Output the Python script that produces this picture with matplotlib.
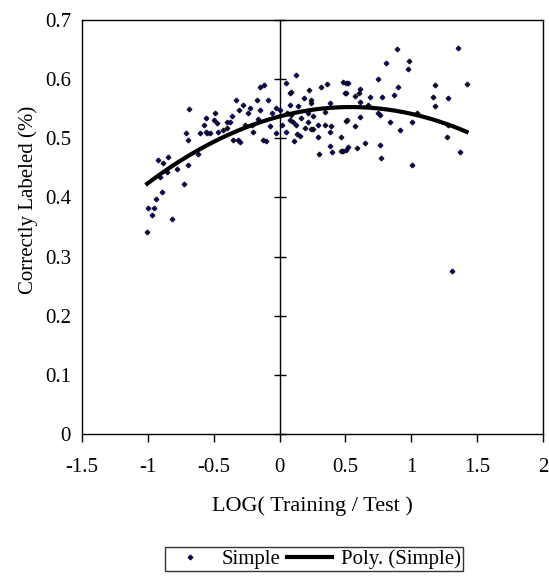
import numpy as np
import matplotlib
matplotlib.use("Agg")
import matplotlib.pyplot as plt

x_vals = [
    -0.685, -0.561, -0.576, -0.711, -0.693, -0.602, -0.561, -0.926, -0.883, -0.845,
    -0.617, -0.781, -0.693, -0.908, -0.726, -0.895, -0.941, -0.997, -0.951, -0.967,
    -0.815, -1.005, -0.853,
    -0.149, -0.116, -0.334, -0.174, -0.086, -0.276, -0.308, -0.225, -0.238, -0.149,
    -0.030, -0.060, -0.491, -0.496, -0.478, -0.364, -0.402, -0.377, -0.162, -0.212,
    -0.554, -0.528, -0.465, -0.427, -0.402, -0.263, -0.200, -0.073, -0.030, -0.352,
    -0.314, -0.301, -0.124, -0.106,
    0.127, 0.051, 0.084, 0.076, 0.221, 0.317, 0.362, 0.481, 0.506, 0.494,
    0.185, 0.241, 0.236, 0.076, 0.140, 0.380, 0.000, 0.058, 0.089, 0.216,
    0.342, 0.165, 0.254, 0.076, 0.102, 0.506, 0.216, 0.018, 0.127, 0.292,
    0.342, 0.393, 0.190, 0.241, 0.254, 0.051, 0.134, 0.153, 0.380, 0.292,
    0.464, 0.109, 0.380, 0.398, 0.464, 0.481, 0.506, 0.297,
    0.889, 0.806, 0.983, 0.977, 0.745, 0.517, 0.897, 0.610, 0.502, 0.603,
    0.686, 0.780, 0.871, 0.610, 0.573, 0.674, 0.750, 0.763, 0.509, 0.610,
    0.838, 0.573, 0.914, 0.648, 0.522, 0.585, 0.762, 0.767,
    1.352, 1.180, 1.420, 1.167, 1.281, 1.180, 1.041, 1.008, 1.281, 1.269,
    1.370, 1.003, 1.306,
]
y_vals = [
    0.550, 0.534, 0.522, 0.509, 0.497, 0.509, 0.511, 0.464, 0.459, 0.468,
    0.473, 0.448, 0.454, 0.435, 0.422, 0.410, 0.397, 0.382, 0.382, 0.371,
    0.364, 0.341, 0.443,
    0.587, 0.590, 0.564, 0.564, 0.564, 0.556, 0.548, 0.551, 0.542, 0.547,
    0.552, 0.542, 0.542, 0.531, 0.526, 0.537, 0.528, 0.528, 0.532, 0.523,
    0.509, 0.509, 0.511, 0.514, 0.517, 0.523, 0.510, 0.520, 0.509, 0.497,
    0.497, 0.493, 0.497, 0.495,
    0.607, 0.593, 0.579, 0.576, 0.582, 0.587, 0.592, 0.596, 0.593, 0.577,
    0.568, 0.564, 0.559, 0.556, 0.555, 0.560, 0.548, 0.542, 0.540, 0.542,
    0.545, 0.534, 0.537, 0.531, 0.528, 0.530, 0.527, 0.523, 0.523, 0.523,
    0.523, 0.520, 0.517, 0.516, 0.516, 0.511, 0.508, 0.504, 0.510, 0.502,
    0.502, 0.496, 0.487, 0.476, 0.478, 0.478, 0.481, 0.474,
    0.651, 0.628, 0.630, 0.617, 0.600, 0.594, 0.587, 0.583, 0.577, 0.576,
    0.570, 0.570, 0.573, 0.562, 0.572, 0.556, 0.543, 0.540, 0.531, 0.536,
    0.528, 0.520, 0.514, 0.492, 0.485, 0.483, 0.489, 0.467,
    0.652, 0.590, 0.592, 0.569, 0.568, 0.554, 0.542, 0.527, 0.523, 0.503,
    0.476, 0.455, 0.275,
]
x_ticks = [-1.5, -1, -0.5, 0, 0.5, 1, 1.5, 2]
x_tick_labels = ["-1.5", "-1", "-0.5", "0", "0.5", "1", "1.5", "2"]
y_ticks = [0, 0.1, 0.2, 0.3, 0.4, 0.5, 0.6, 0.7]
y_tick_labels = ["0", "0.1", "0.2", "0.3", "0.4", "0.5", "0.6", "0.7"]

plt.rcParams["font.family"] = ["Liberation Serif", "DejaVu Serif"]
fs_tick = 15
fs_label = 16

x = np.array(x_vals)
y = np.array(y_vals)
coef = np.polyfit(x, y, 2)
xf = np.linspace(x.min(), x.max(), 200)
yf = np.polyval(coef, xf)

fig = plt.figure(figsize=(5.49, 5.76), dpi=100)
ax = fig.add_axes([82 / 549, 1 - 434 / 576, (543 - 82) / 549, (434 - 20) / 576])

ax.plot(x, y, linestyle="none", marker="P", markersize=3.5, color="#000060",
        markeredgecolor="black", markeredgewidth=0.4, label="Simple")
ax.plot(xf, yf, color="black", linewidth=3.0, label="Poly. (Simple)")

ax.set_xlim(-1.5, 2)
ax.set_ylim(0, 0.7)
ax.set_xticks(x_ticks)
ax.set_xticklabels(x_tick_labels, fontsize=fs_tick)
ax.set_yticks(y_ticks)
ax.set_yticklabels(y_tick_labels, fontsize=fs_tick)
ax.tick_params(axis="y", length=0, pad=8)
ax.tick_params(axis="x", direction="out", length=6, width=1, pad=11)
for s in ax.spines.values():
    s.set_linewidth(1.0)
    s.set_color("black")

sec = ax.secondary_yaxis(1.5 / 3.5)
sec.set_yticks(y_ticks)
sec.tick_params(direction="inout", length=8, width=1, labelleft=False, labelright=False)
sec.set_yticklabels([])
sec.spines["left"].set_linewidth(1.0)
sec.spines["right"].set_visible(False)

ax.set_xlabel("LOG( Training / Test )", fontsize=fs_label)
ax.xaxis.set_label_coords(0.5, (434 - 496) / 414)
ax.set_ylabel("Correctly Labeled (%)", fontsize=fs_tick)
ax.yaxis.set_label_coords((38 - 82) / 461, (434 - 200) / 414)

leg = fig.legend(loc="center", bbox_to_anchor=(314 / 549, 1 - 559 / 576), ncol=2,
                 fontsize=fs_tick, frameon=True, fancybox=False, handlelength=2.2,
                 columnspacing=0.3, handletextpad=0.4, borderpad=0.1, markerscale=1.0,
                 borderaxespad=0)
leg.get_frame().set_edgecolor("black")
leg.get_frame().set_linewidth(1.0)

fig.savefig("out.png", dpi=100)
